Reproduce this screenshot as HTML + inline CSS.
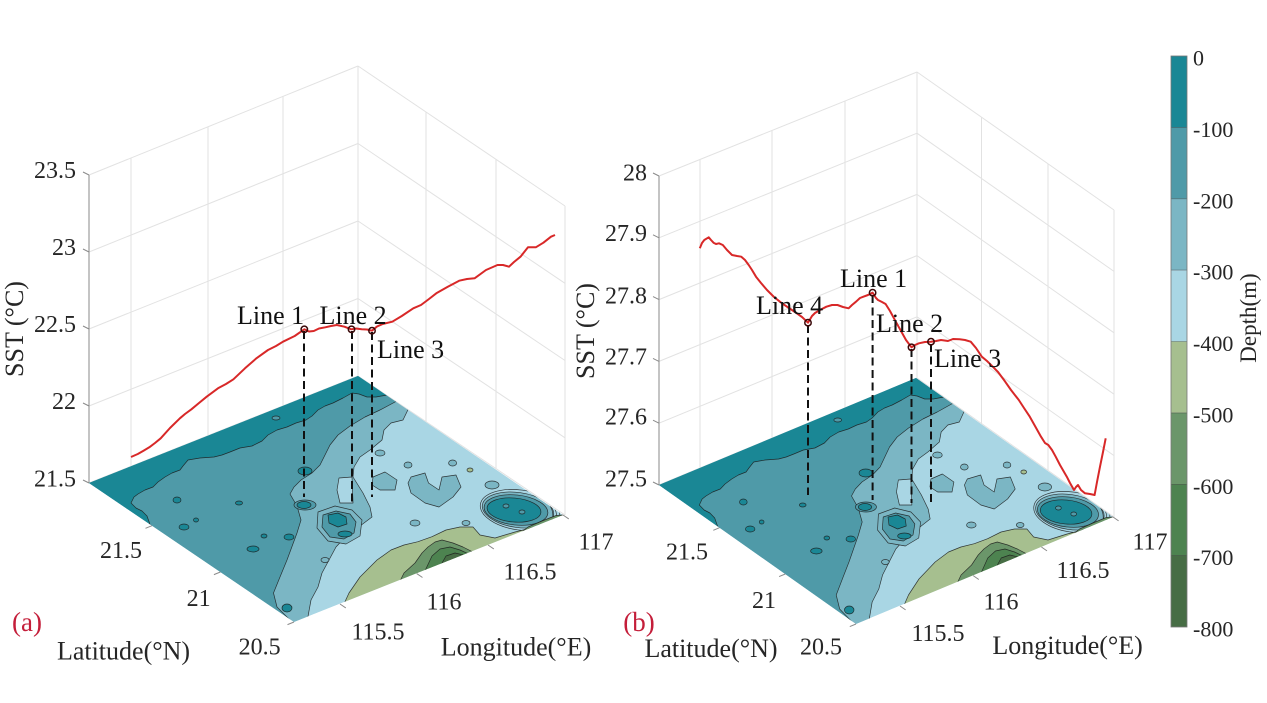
<!DOCTYPE html>
<html>
<head>
<meta charset="utf-8">
<style>
html,body{margin:0;padding:0;background:#fff;overflow:hidden;}
svg{display:block;}
text{font-family:"Liberation Serif","Times New Roman",serif;fill:#262626;}
.g{stroke:#e2e2e2;stroke-width:1;fill:none;}
.ax{stroke:#8a8a8a;stroke-width:1;fill:none;}
.c{stroke:#1b1b1b;stroke-width:0.7;stroke-linejoin:round;stroke-opacity:0.85;}
.tk{font-size:24px;}
.lb{font-size:26px;}
.dash{stroke:#111;stroke-width:2;stroke-dasharray:8 4.5;fill:none;}
.red{stroke:#d82828;stroke-width:2;fill:none;stroke-linejoin:round;}
.mk{fill:none;stroke:#3a0808;stroke-width:1.5;}
</style>
</head>
<body>
<svg width="1267" height="703" viewBox="0 0 1267 703" xmlns="http://www.w3.org/2000/svg">
<defs>
<clipPath id="fc"><path d="M89,483 L358,376 L563,515 L294,622 Z"/></clipPath>
<g id="floorA">
 <g clip-path="url(#fc)">
  <path d="M89,483 L358,376 L563,515 L294,622 Z" fill="#a9d6e4"/>
  <path class="c" fill="#7bb6c4" d="M60,480 L360,350 L414,402 L408,409.6 L403,420 L391,423 L384,430 L382,440 L370,450 L360,457 L354,467 L353,477 L358,485 L363,493 L370,507 L372,517 L360,526 L349,533 L336,547 L329,560 L322,573 L318,587 L311,600 L308,616.4 L310,632 L290,660 Z"/>
  <path class="c" fill="#4f9aa8" d="M60,480 L360,350 L402,396 L396,401.5 L380,410 L365,417 L350,426 L338,435 L330,445 L325,455 L320,465 L312,473 L301,480 L294,487 L290,494 L297,506 L301,520 L297,533 L287,560 L280,577 L273.5,593 L277,607 L284,614 L291,621 L292,640 L290,660 Z"/>
  <path class="c" fill="#1a8795" d="M60,480 L360,350 L392,390 L386.5,395.1 L376,397 L367,397 L359,394 L352,393 L343,398 L333,403 L325,406 L318,410 L312,416 L306,420 L296,423 L287,427 L277,430 L268,435 L262,441 L252,446 L240,448 L230,452 L222,455 L214,457 L200,458 L188,460 L183,466 L180,470 L172,473 L165,477 L158,482 L153,487 L145,490 L138,494 L134,497 L131,503 L136,508 L142,511 L147,516 L150,524.4 L144,532 Z"/>
  <path class="c" fill="#7bb6c4" d="M411,477 L425,473 L428.5,483 L439,490 L442,477 L456,475 L461,487 L453,497 L439,507 L425,503 L411,493 L408,483 Z"/>
  <path class="c" fill="#7bb6c4" d="M373,477 L385,472 L397,480 L395,490 L380,490 L372,485 Z"/>
  <path class="c" fill="#a9d6e4" d="M339,478 L352,477 L353,503 L340,503 L337,490 Z"/>
  <path class="c" fill="#7bb6c4" d="M318,512 L335,506 L352,510 L362,520 L360,536 L346,544 L328,541 L317,528 Z"/>
  <path class="c" fill="#4f9aa8" d="M323,515 L336,511 L350,514 L356,522 L354,533 L344,539 L330,537 L322,527 Z"/>
  <path class="c" fill="#1a8795" d="M328,515 L338,513 L346,517 L347,524 L338,527 L329,523 Z"/>
  <ellipse class="c" fill="#1a8795" cx="345" cy="534" rx="7" ry="3"/>
  <ellipse class="c" fill="#4f9aa8" cx="305" cy="505" rx="11" ry="5"/>
  <ellipse class="c" fill="#1a8795" cx="304" cy="505" rx="7" ry="3.5"/>
  <ellipse class="c" fill="#1a8795" cx="305" cy="471" rx="7" ry="4"/>
  <ellipse class="c" fill="#1a8795" cx="184" cy="527" rx="5" ry="3"/>
  <ellipse class="c" fill="#1a8795" cx="253" cy="549" rx="6" ry="3"/>
  <ellipse class="c" fill="#1a8795" cx="289" cy="537" rx="5" ry="3"/>
  <ellipse class="c" fill="#1a8795" cx="264" cy="536" rx="3" ry="2"/>
  <ellipse class="c" fill="#1a8795" cx="239" cy="503" rx="3.5" ry="2"/>
  <ellipse class="c" fill="#1a8795" cx="177" cy="500" rx="4" ry="3"/>
  <ellipse class="c" fill="#1a8795" cx="196" cy="520" rx="2.5" ry="2"/>
  <ellipse class="c" fill="#1a8795" cx="287" cy="608" rx="5" ry="4"/>
  <ellipse class="c" fill="#4f9aa8" cx="276" cy="418" rx="4" ry="2"/>
  <ellipse class="c" fill="#7bb6c4" cx="380" cy="453" rx="5" ry="3"/>
  <ellipse class="c" fill="#7bb6c4" cx="408" cy="465" rx="4" ry="3"/>
  <ellipse class="c" fill="#7bb6c4" cx="452.6" cy="463" rx="4" ry="3"/>
  <ellipse class="c" fill="#a6bf8f" cx="470" cy="470" rx="3" ry="2"/>
  <ellipse class="c" fill="#7bb6c4" cx="492" cy="485" rx="7" ry="4"/>
  <ellipse class="c" fill="#7bb6c4" cx="415" cy="523" rx="5" ry="3"/>
  <ellipse class="c" fill="#7bb6c4" cx="466" cy="523" rx="4" ry="2.5"/>
  <ellipse class="c" fill="#7bb6c4" cx="325" cy="560" rx="4" ry="2.5"/>
  <ellipse class="c" fill="#a9d6e4" cx="520" cy="510" rx="40" ry="20" transform="rotate(8 520 510)"/>
  <ellipse class="c" fill="#7bb6c4" cx="518" cy="510" rx="36" ry="17.5" transform="rotate(8 518 510)"/>
  <ellipse class="c" fill="#4f9aa8" cx="516" cy="510" rx="32" ry="15" transform="rotate(6 516 510)"/>
  <ellipse class="c" fill="#1a8795" cx="514" cy="510" rx="27" ry="12" transform="rotate(5 514 510)"/>
  <path class="c" fill="none" d="M541,498 Q556,506 552,522"/>
  <path class="c" fill="none" d="M545,499 Q559,507 556,521"/>
  <ellipse class="c" fill="#4f9aa8" cx="506" cy="506" rx="3" ry="2"/>
  <ellipse class="c" fill="#4f9aa8" cx="522" cy="512" rx="3" ry="2"/>
  <path class="c" fill="#a6bf8f" d="M343,606 L349,593 L360,577 L377,560 L391,550 L404,545 L418,541.7 L432,536.7 L446,530 L460,527 L473,527 L480,535 L495,538 L515,532 L535,527 L550,518 L563,515 L600,515 L600,560 L340,640 Z"/>
  <path class="c" fill="#6b966a" d="M398,585 L404,573 L415,563 L422,553 L428,547 L435,542 L442,540 L453,543 L463,547 L472,551.6 L476,560 Z"/>
  <path class="c" fill="#6b966a" d="M512,540 L528,527 L542,521 L556,515.5 L563,515 L600,515 L600,540 Z"/>
  <path class="c" fill="#4d8350" d="M423,575 L432,556 L440,549 L450,547 L460,550 L467,553.2 L470,560 Z"/>
  <path class="c" fill="#476d45" d="M438,570 L446,556 L455,553 L463,554.8 L465,562 Z"/>
 </g>
</g>
</defs>

<!-- ================= PANEL A ================= -->
<g class="g">
 <path d="M89,483 L358,376 M89,406 L358,298.5 M89,329 L358,221 M89,252 L358,143.5 M89,175 L358,66"/>
 <path d="M358,376 L565,515 M358,298.5 L565,437.8 M358,221 L565,360.5 M358,143.5 L565,283.3 M358,66 L565,206"/>
 <path d="M131,466.3 L131,158 M208,435.7 L208,126.8 M283,405.8 L283,96.4 M358,376 L358,66"/>
 <path d="M426,421.7 L426,112 M496,468.7 L496,159.3 M565,515 L565,206"/>
</g>
<path class="ax" d="M89,175 L89,483"/>
<path class="ax" d="M89,175 L83,172 M89,252 L83,249 M89,329 L83,326 M89,406 L83,403 M89,483 L83,480"/>
<use href="#floorA"/>
<path class="ax" d="M152,525.7 L145.5,528.3 M220.4,572 L213.9,574.6 M294,622 L287.5,624.6 M340,604 L345.8,607.9 M416.7,573.6 L422.5,577.5 M488,545 L493.8,548.9 M563,515 L568.8,518.9"/>
<path class="dash" d="M304,331 L304,497 M352,331 L352,502 M372,332 L372,497"/>
<polyline class="red" points="131,457 137.8,454 143.5,450.7 149.3,447.3 155,443 160.7,438.3 170,428 179.9,418.3 185,414 191.4,409.3 199,403 206.7,396.7 218,388.3 226,384 233.4,379.3 245,368.3 256.4,358.3 268,350 276,346 283,341.7 294.7,336 304.3,329.3 309,331.5 313.8,331 319,328.5 325.3,327.3 331,326 336.8,325 344.4,326.7 351.3,329.3 356,328.5 361.7,329.3 367,329.5 372,330.7 377,326.5 382.7,324 392.3,321.7 401.8,316 413.3,308.3 421,305 429,299 436.3,293.3 447.8,286.7 459.2,280.7 467,279 474.6,278.3 486,270 497.5,265 503,265 509,266.7 514,262 520.5,256.7 528,247.3 535.8,247.3 543.4,242.7 551,236.7 555,235"/>
<circle class="mk" cx="304.3" cy="329.3" r="3.2"/>
<circle class="mk" cx="351.5" cy="329.3" r="3.2"/>
<circle class="mk" cx="372" cy="330.7" r="3.2"/>
<g class="tk" text-anchor="end">
 <text x="76" y="178">23.5</text>
 <text x="76" y="255">23</text>
 <text x="76" y="332">22.5</text>
 <text x="76" y="409">22</text>
 <text x="76" y="486.5">21.5</text>
</g>
<g class="tk" text-anchor="middle">
 <text x="121" y="558">21.5</text>
 <text x="198.6" y="606">21</text>
 <text x="259.6" y="654.7">20.5</text>
 <text x="378" y="639.7">115.5</text>
 <text x="444" y="609.7">116</text>
 <text x="530" y="579.7">116.5</text>
 <text x="596" y="549.7">117</text>
</g>
<g class="lb">
 <text x="123.5" y="659.7" text-anchor="middle">Latitude(°N)</text>
 <text x="516" y="655.7" text-anchor="middle">Longitude(°E)</text>
 <text transform="translate(23,329) rotate(-90)" text-anchor="middle">SST (°C)</text>
 <text x="237" y="324" style="fill:#111">Line 1</text>
 <text x="319.5" y="324" style="fill:#111">Line 2</text>
 <text x="377" y="358" style="fill:#111">Line 3</text>
</g>
<text x="27" y="631" text-anchor="middle" style="font-size:27px;fill:#c41e3a">(a)</text>

<!-- ================= PANEL B ================= -->
<g class="g">
 <path d="M659,485 L917,378 M659,423.2 L917,316.8 M659,361.4 L917,255.6 M659,299.6 L917,194.4 M659,237.8 L917,133.2 M659,176 L917,72"/>
 <path d="M917,378 L1114,517 M917,316.8 L1114,455.6 M917,255.6 L1114,394.2 M917,194.4 L1114,332.8 M917,133.2 L1114,271.4 M917,72 L1114,210"/>
 <path d="M700,468 L700,159.5 M772,438.1 L772,130.4 M845,407.9 L845,101 M917,378 L917,72"/>
 <path d="M981.5,423.7 L981.5,117.2 M1048,470.9 L1048,163.8 M1114,517.7 L1114,210"/>
</g>
<path class="ax" d="M659,176 L659,485"/>
<path class="ax" d="M659,176 L653,173 M659,237.8 L653,234.8 M659,299.6 L653,296.6 M659,361.4 L653,358.4 M659,423.2 L653,420.2 M659,485 L653,482"/>
<use href="#floorA" transform="matrix(0.95746 0 0.00519 1 571.28 2)"/>
<path class="ax" d="M719.5,527.7 L713.3,530.3 M785.3,574 L779.1,576.6 M856,624 L849.8,626.6 M900,606 L905.6,609.9 M973.2,575.6 L978.8,579.5 M1041.4,547 L1047,550.9 M1113,517 L1118.6,520.9"/>
<path class="dash" d="M808,325 L808,495 M872.6,295 L872.6,500 M911.5,349 L911.5,503 M931,344 L931,503"/>
<polyline class="red" points="699.8,248.3 702,243 704.3,240 708.7,237.3 711,240 713.5,242.7 716,244 719,243.3 722.8,245 727,250 732,255 737,256 741.3,256.7 745,260 748.7,265 752,270 756,276.7 761,283 767,290 774,297 782,303.3 789,308 796.8,313.3 802,317 808,322.7 812,316 815,313 820,310 826.4,306.7 832,305 837.5,305 843,307 848.6,308.3 852,305 856,301.7 860,298 863.4,296.7 868,295 872.6,292.7 876,298 878,300 882,302 885.6,304 890,311 896.7,323.3 901,331 906,340 911.5,347.3 915,345 918.9,343.3 925,342 931,341.7 936,341 941,340 948,341 953,339 959.6,339.3 965,340 970.7,341.7 976,348 981.8,356.7 987,361 992.8,366.7 998,372 1004,380 1011,390 1018.8,400 1024,408 1029.8,416.7 1035,426 1041,436.7 1045,443 1048.3,445 1052,450 1055.7,456.7 1060,465 1066.8,476.7 1070,483 1074,490 1076,487 1078,485 1081,490 1085,493.3 1090,494 1094.6,495 1097,482 1100,466.7 1103,452 1105.7,438.3"/>
<circle class="mk" cx="808" cy="322.7" r="3.2"/>
<circle class="mk" cx="872.6" cy="292.7" r="3.2"/>
<circle class="mk" cx="911.5" cy="347.3" r="3.2"/>
<circle class="mk" cx="931" cy="341.7" r="3.2"/>
<g class="tk" text-anchor="end">
 <text x="647" y="180.7">28</text>
 <text x="647" y="241">27.9</text>
 <text x="647" y="303.7">27.8</text>
 <text x="647" y="364.7">27.7</text>
 <text x="647" y="424.7">27.6</text>
 <text x="647" y="486.3">27.5</text>
</g>
<g class="tk" text-anchor="middle">
 <text x="687" y="559.7">21.5</text>
 <text x="764" y="608">21</text>
 <text x="821" y="654.7">20.5</text>
 <text x="938" y="641">115.5</text>
 <text x="1001" y="609.7">116</text>
 <text x="1083" y="578">116.5</text>
 <text x="1150" y="549.7">117</text>
</g>
<g class="lb">
 <text x="711" y="657" text-anchor="middle">Latitude(°N)</text>
 <text x="1067.6" y="654" text-anchor="middle">Longitude(°E)</text>
 <text transform="translate(594,331) rotate(-90)" text-anchor="middle">SST (°C)</text>
 <text x="756" y="314" style="fill:#111">Line 4</text>
 <text x="840" y="287" style="fill:#111">Line 1</text>
 <text x="876" y="332" style="fill:#111">Line 2</text>
 <text x="934" y="367" style="fill:#111">Line 3</text>
</g>
<text x="639" y="631" text-anchor="middle" style="font-size:27px;fill:#c41e3a">(b)</text>

<!-- ================= COLORBAR ================= -->
<g>
 <rect x="1171" y="56" width="16" height="71.4" fill="#1a8795"/>
 <rect x="1171" y="127.4" width="16" height="71.4" fill="#4f9aa8"/>
 <rect x="1171" y="198.8" width="16" height="71.3" fill="#7bb6c4"/>
 <rect x="1171" y="270.1" width="16" height="71.4" fill="#a9d6e4"/>
 <rect x="1171" y="341.5" width="16" height="71.4" fill="#a6bf8f"/>
 <rect x="1171" y="412.9" width="16" height="71.4" fill="#6b966a"/>
 <rect x="1171" y="484.3" width="16" height="71.3" fill="#4d8350"/>
 <rect x="1171" y="555.6" width="16" height="71.4" fill="#476d45"/>
 <path d="M1171,127.4 H1187 M1171,198.8 H1187 M1171,270.1 H1187 M1171,341.5 H1187 M1171,412.9 H1187 M1171,484.3 H1187 M1171,555.6 H1187" stroke="#333" stroke-width="0.6" opacity="0.6"/>
 <rect x="1171" y="56" width="16" height="571" fill="none" stroke="#777" stroke-width="0.8"/>
</g>
<g style="font-size:22px">
 <text x="1193" y="65.5">0</text>
 <text x="1193" y="137">-100</text>
 <text x="1193" y="208.3">-200</text>
 <text x="1193" y="279.6">-300</text>
 <text x="1193" y="351">-400</text>
 <text x="1193" y="422.4">-500</text>
 <text x="1193" y="493.8">-600</text>
 <text x="1193" y="565.1">-700</text>
 <text x="1193" y="636.5">-800</text>
</g>
<text transform="translate(1256,318) rotate(-90)" text-anchor="middle" style="font-size:23px">Depth(m)</text>
</svg>
</body>
</html>
